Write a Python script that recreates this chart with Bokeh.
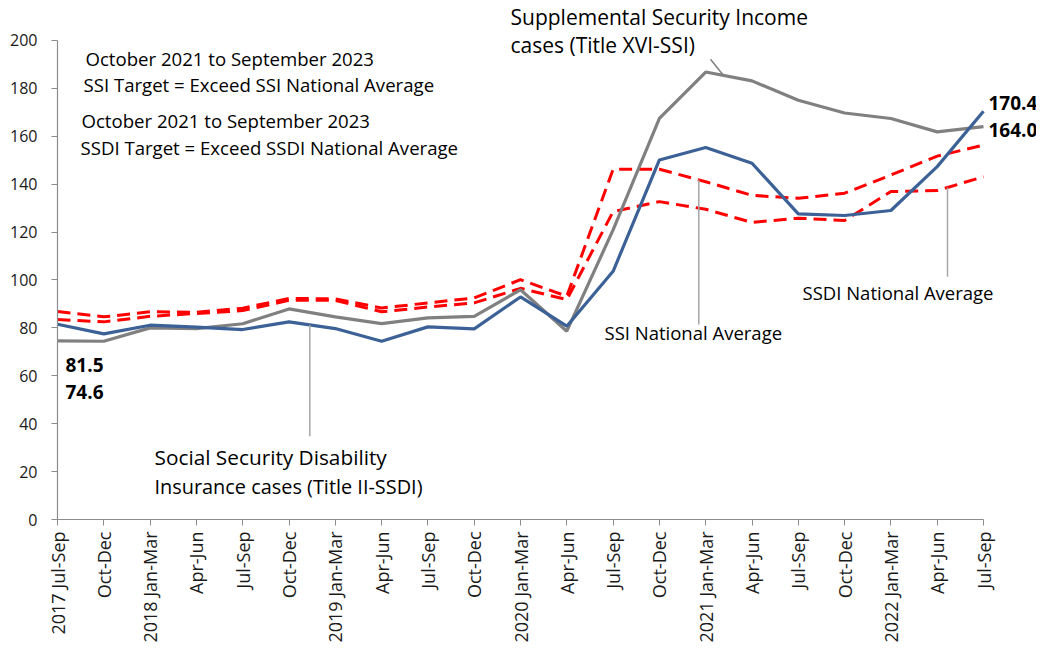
import numpy as np
from bokeh.plotting import figure
from bokeh.models import Range1d, Label
from bokeh.embed import file_html
from bokeh.resources import INLINE

quarters = ["2017 Jul-Sep", "Oct-Dec", "2018 Jan-Mar", "Apr-Jun", "Jul-Sep", "Oct-Dec",
            "2019 Jan-Mar", "Apr-Jun", "Jul-Sep", "Oct-Dec", "2020 Jan-Mar", "Apr-Jun",
            "Jul-Sep", "Oct-Dec", "2021 Jan-Mar", "Apr-Jun", "Jul-Sep", "Oct-Dec",
            "2022 Jan-Mar", "Apr-Jun", "Jul-Sep"]
ssdi_cases = [81.5, 77.5, 81.1, 80.3, 79.3, 82.5, 79.7, 74.4, 80.4, 79.6, 92.9, 80.7,
              103.6, 150.1, 155.3, 148.7, 127.6, 126.9, 129.0, 147.3, 170.4]
ssi_cases = [74.6, 74.4, 80.0, 79.7, 81.7, 87.9, 84.6, 81.8, 84.2, 84.8, 95.9, 78.6,
             120.9, 167.4, 186.8, 183.1, 175.0, 169.7, 167.4, 161.8, 164.0]
ssi_national = [86.8, 84.6, 86.7, 86.5, 88.2, 92.3, 92.1, 88.3, 90.4, 92.5, 100.1, 93.2,
                146.2, 146.2, 141.0, 135.3, 134.1, 136.2, 143.8, 151.7, 156.3]
ssdi_national = [83.5, 82.5, 84.8, 86.0, 87.2, 91.5, 91.5, 86.7, 88.7, 90.4, 96.5, 91.8,
                 128.5, 132.7, 129.5, 124.0, 125.8, 124.8, 136.9, 137.3, 143.1]
y_ticks = [0, 20, 40, 60, 80, 100, 120, 140, 160, 180, 200]

FONT = "Open Sans"
idx = list(range(len(quarters)))

# frame spans from the y axis (x=57) to the right page edge, and from y=0 to the top
X_PX = 46.3
Y_PX = 2.4025
W, H = 1036, 645
LEFT, BOTTOM_PX = 57, 520.5
x_end = (W - LEFT) / X_PX
y_end = BOTTOM_PX / Y_PX

p = figure(width=W, height=H, output_backend="svg", toolbar_location=None,
           x_range=Range1d(0, x_end), y_range=Range1d(0, y_end),
           min_border_left=LEFT, min_border_right=0, min_border_top=0,
           min_border_bottom=int(round(H - BOTTOM_PX)))
p.outline_line_color = None
p.grid.visible = False
p.background_fill_color = "white"

p.line(idx, ssi_national, line_color="#FF0000", line_width=3, line_dash="13 7")
p.line(idx, ssdi_national, line_color="#FF0000", line_width=3, line_dash="13 7")
p.line(idx, ssi_cases, line_color="#808080", line_width=3.2)
p.line(idx, ssdi_cases, line_color="#3B6196", line_width=3.2)

for ax in (p.xaxis[0], p.yaxis[0]):
    ax.axis_line_color = "#8C8C8C"
    ax.axis_line_width = 1.2
    ax.major_tick_line_color = "#8C8C8C"
    ax.major_tick_in = 0
    ax.major_tick_out = 6
    ax.minor_tick_line_color = None
    ax.major_label_text_font = FONT
    ax.major_label_text_color = "#1a1a1a"

p.yaxis.ticker = y_ticks
p.yaxis.bounds = (0, 200)
p.yaxis.major_label_text_font_size = "16px"
p.yaxis.major_label_standoff = 14
p.xaxis.ticker = idx
p.xaxis.bounds = (0, len(quarters) - 1)
p.xaxis.major_label_overrides = {i: q for i, q in enumerate(quarters)}
p.xaxis.major_label_orientation = np.pi / 2
p.xaxis.major_label_text_font_size = "18px"
p.xaxis.major_label_standoff = 6


def px2x(px):
    return (px - LEFT) / X_PX


def px2y(py):
    return (BOTTOM_PX - py) / Y_PX


def note(text, px, py, size="18.6px", bold=False):
    p.add_layout(Label(x=px2x(px), y=px2y(py), text=text, text_font=FONT,
                       text_font_size=size, text_baseline="middle", text_align="left",
                       text_color="black", text_font_style="bold" if bold else "normal"))


note("October 2021 to September 2023", 85, 58)
note("SSI Target = Exceed SSI National Average", 83, 84)
note("October 2021 to September 2023", 81, 120)
note("SSDI Target = Exceed SSDI National Average", 80, 147)
note("Supplemental Security Income", 510, 17, size="21px")
note("cases (Title XVI-SSI)", 510, 45, size="21px")
note("SSI National Average", 604, 333, size="18.5px")
note("SSDI National Average", 802, 293, size="18.5px")
note("Social Security Disability", 154, 458, size="20.8px")
note("Insurance cases (Title II-SSDI)", 154, 487, size="19.9px")

note(f"{ssdi_cases[0]:.1f}", 65, 366, size="19px", bold=True)
note(f"{ssi_cases[0]:.1f}", 65, 393, size="19px", bold=True)
note(f"{ssdi_cases[-1]:.1f}", 988, 103, size="19px", bold=True)
note(f"{ssi_cases[-1]:.1f}", 988, 130, size="19px", bold=True)

# pointer lines from labels to series
ptr_color = "#A6A6A6"
xa = px2x(309.3)
p.segment(x0=[xa], y0=[np.interp(xa, idx, ssdi_cases)], x1=[xa], y1=[px2y(437)],
          line_color=ptr_color, line_width=1.5)
xb = px2x(698.3)
p.segment(x0=[xb], y0=[np.interp(xb, idx, ssi_national)], x1=[xb], y1=[px2y(325)],
          line_color=ptr_color, line_width=1.5)
xc = px2x(947)
p.segment(x0=[xc], y0=[np.interp(xc, idx, ssdi_national)], x1=[xc], y1=[px2y(277)],
          line_color=ptr_color, line_width=1.5)
xd = px2x(723)
p.segment(x0=[xd], y0=[np.interp(xd, idx, ssi_cases)], x1=[px2x(710)], y1=[px2y(59)],
          line_color="#808080", line_width=1.5)

open("out.html", "w").write(file_html(p, INLINE))
